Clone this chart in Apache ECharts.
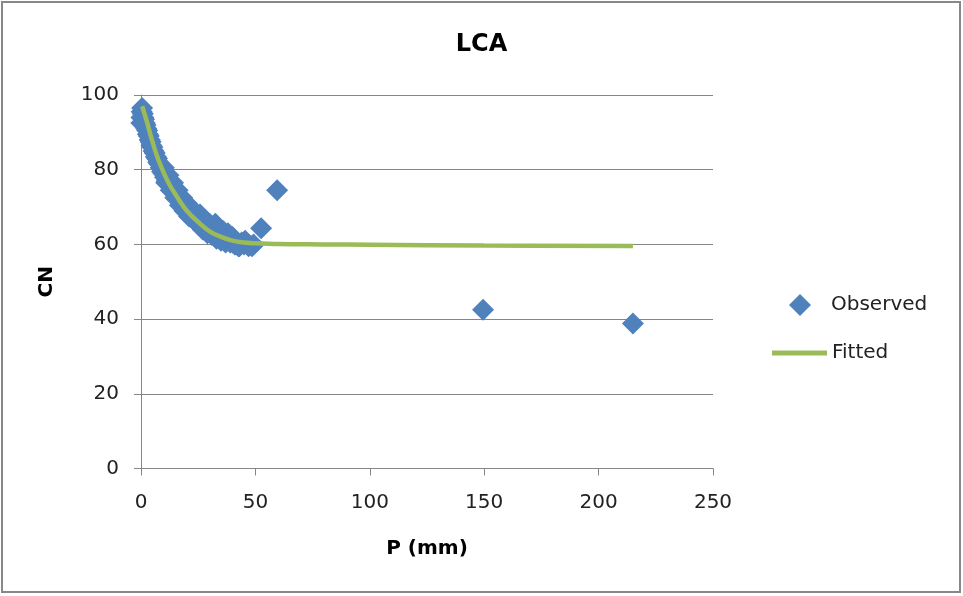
<!DOCTYPE html>
<html>
<head>
<meta charset="utf-8">
<script src="https://cdn.jsdelivr.net/npm/echarts@6/dist/echarts.min.js"></script>
<style>
html,body{margin:0;padding:0;background:#fff;}
#chart{width:963px;height:596px;}
</style>
</head>
<body>
<div id="chart"></div>
<script>
const titleText = "LCA";
const xAxisName = "P (mm)";
const yAxisName = "CN";
const seriesNames = ["Observed", "Fitted"];

// Observed (P, CN)
const observedP = [0.1,0.2,0.3,0.5,0.8,1.0,1.3,1.6,2.0,2.3,2.7,3.0,3.4,3.8,4.2,4.6,5.0,5.5,6.0,6.5,7.0,7.5,8.0,8.6,9.2,9.8,10.5,11.2,12.0,12.8,13.6,14.5,15.3,16.2,17.2,18.2,19.2,20.3,21.5,22.6,23.8,25.0,25.8,26.3,27.5,28.8,30.0,31.3,32.5,33.8,35.0,36.3,37.5,38.8,40.0,41.5,42.6,44.0,45.5,47.0,48.5,49.2,
  10,12,14,16,18,20,22,24,26,28,30,32,34,36,38,40,
  11,13,15,17,19,21,23,27,29,31,33,35,37,39,41,43,45,47,
  52.5,59.5,149.5,215.0];
const observedCN = [92.5,94,95.5,96.5,95,94,93.5,92.5,92,91,90.5,89.5,89,88,87.5,86.5,86,85,84.5,83.5,83,82,81.5,80.5,79.5,79,78,77,76.5,75.5,74.5,74,73,72.5,71.5,70.5,70,69,68.5,67.5,67,66,68,66.5,65,64.5,64,63.5,65.5,63,62.5,62,61.5,61,60.5,60,59.5,60.5,61,60,59.5,60,
  80.5,78.5,76.5,74.5,72.5,71,69.5,68.5,67.5,66.5,65.5,64.5,64,63.5,63,62,
  76.5,74.5,72.5,70.5,69,67.5,66.5,64,63,62.5,61.5,61,60.5,60.5,60,59.5,60,59.5,
  64.3,74.5,42.5,38.8];

// Fitted curve (P, CN)
const fittedP = [0.5,2.5,5,8,12,16,20,25,30,35,40,45,50,60,80,100,150,215];
const fittedCN = [97,93,87.5,82,76.5,72.5,69,66,63.5,62,61,60.5,60.3,60.1,60.0,59.9,59.7,59.6];

const xTicks = {min:0, max:250, interval:50};
const yTicks = {min:0, max:100, interval:20};

const FONT = "DejaVu Sans";
const chart = echarts.init(document.getElementById('chart'), null, {renderer:'canvas'});
chart.setOption({
  animation:false,
  backgroundColor:'#fff',
  title:{text:titleText, left:'center', top:28,
    textStyle:{fontFamily:FONT, fontSize:24, fontWeight:'bold', color:'#000'}},
  graphic:[{type:'rect', shape:{x:2,y:2,width:958,height:590},
    style:{fill:'none', stroke:'#888', lineWidth:2}, silent:true}],
  legend:[
    {data:[seriesNames[0]], orient:'vertical', left:789, top:294, icon:'diamond',
     itemWidth:22, itemHeight:22, padding:0,
     itemStyle:{opacity:1},
     textStyle:{fontFamily:FONT, fontSize:20, color:'#222', padding:[0,0,0,15]}},
    {data:[seriesNames[1]], orient:'vertical', left:772, top:343, icon:'rect',
     itemWidth:55, itemHeight:5, padding:0,
     textStyle:{fontFamily:FONT, fontSize:20, color:'#222', padding:[0,0,0,0]}}
  ],
  grid:{left:141, right:250, top:95, bottom:127.5, containLabel:false},
  xAxis:{type:'value', min:xTicks.min, max:xTicks.max, interval:xTicks.interval,
    name:xAxisName, nameLocation:'middle', nameGap:70,
    nameTextStyle:{fontFamily:FONT, fontSize:20, fontWeight:'bold', color:'#000'},
    axisLine:{show:true, lineStyle:{color:'#868686', width:1}},
    axisTick:{show:true, inside:false, length:7, lineStyle:{color:'#868686'}},
    axisLabel:{fontFamily:FONT, fontSize:20, color:'#222', margin:24},
    splitLine:{show:false}},
  yAxis:{type:'value', min:yTicks.min, max:yTicks.max, interval:yTicks.interval,
    name:yAxisName, nameLocation:'middle', nameGap:84, nameRotate:90,
    nameTextStyle:{fontFamily:FONT, fontSize:20, fontWeight:'bold', color:'#000'},
    axisLine:{show:true, lineStyle:{color:'#868686', width:1}},
    axisTick:{show:true, inside:false, length:7, lineStyle:{color:'#868686'}},
    axisLabel:{fontFamily:FONT, fontSize:20, color:'#222', margin:22},
    splitLine:{show:true, lineStyle:{color:'#868686', width:1}}},
  series:[
    {name:seriesNames[0], type:'scatter', symbol:'diamond', symbolSize:22,
     itemStyle:{color:'#4F81BD', opacity:1},
     data:observedP.map((p,i)=>[p, observedCN[i]]), z:2},
    {name:seriesNames[1], type:'line', smooth:0.4, showSymbol:false, symbol:'none',
     lineStyle:{color:'#9BBB59', width:4.5}, itemStyle:{color:'#9BBB59'},
     data:fittedP.map((p,i)=>[p, fittedCN[i]]), z:3}
  ]
});
</script>
</body>
</html>
